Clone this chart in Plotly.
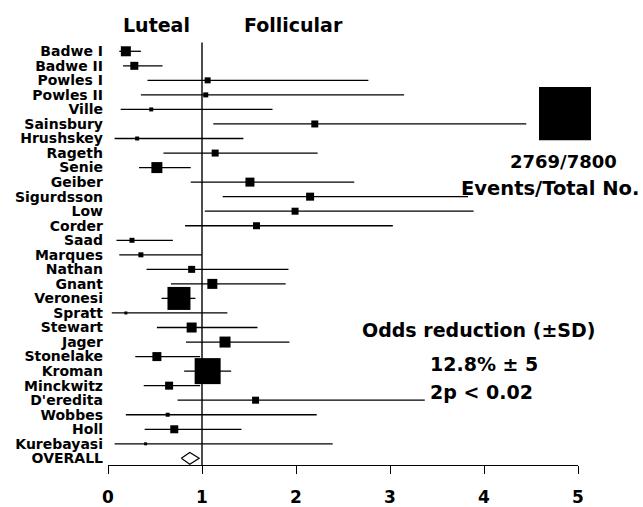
import plotly.graph_objects as go

# ---- data ----
studies = ["Badwe I", "Badwe II", "Powles I", "Powles II", "Ville", "Sainsbury",
           "Hrushskey", "Rageth", "Senie", "Geiber", "Sigurdsson", "Low", "Corder",
           "Saad", "Marques", "Nathan", "Gnant", "Veronesi", "Spratt", "Stewart",
           "Jager", "Stonelake", "Kroman", "Minckwitz", "D'eredita", "Wobbes",
           "Holl", "Kurebayasi"]
odds = [0.19, 0.28, 1.06, 1.04, 0.46, 2.20, 0.31, 1.14, 0.52, 1.51, 2.15, 1.99, 1.58,
        0.255, 0.35, 0.89, 1.11, 0.755, 0.19, 0.89, 1.245, 0.52, 1.06, 0.65, 1.57,
        0.635, 0.705, 0.40]
ci_low = [0.12, 0.16, 0.42, 0.35, 0.135, 1.12, 0.07, 0.59, 0.33, 0.88, 1.22, 1.03, 0.82,
          0.09, 0.12, 0.41, 0.67, 0.57, 0.04, 0.52, 0.83, 0.29, 0.81, 0.38, 0.74,
          0.19, 0.39, 0.07]
ci_high = [0.35, 0.58, 2.77, 3.15, 1.75, 4.45, 1.44, 2.23, 0.88, 2.62, 3.83, 3.89, 3.03,
           0.69, 1.00, 1.92, 1.89, 0.93, 1.27, 1.59, 1.93, 0.98, 1.31, 0.98, 3.37,
           2.22, 1.42, 2.39]
weights = [10, 8, 6, 5, 4, 7, 4, 7, 11, 9, 8, 7, 7, 5, 5, 7, 10, 23, 3, 10, 11, 9, 26,
           8, 7, 4, 8, 3]
overall_label = "OVERALL"
overall_est = 0.87
overall_low = 0.78
overall_high = 0.97
x_ticks = [0, 1, 2, 3, 4, 5]

# ---- styles ----
FONT = "DejaVu Sans"
SIZE_SCALE = 1.0
DIAMOND_HALF_H = 0.4
n = len(studies)
rows = list(range(n))
overall_row = n
y_bottom = overall_row + 0.457
y_top = -3.527

fig = go.Figure()

fig.add_trace(go.Scatter(
    x=odds, y=rows, mode="markers",
    marker=dict(symbol="square", color="#000000", opacity=1,
                size=[w * SIZE_SCALE for w in weights], line=dict(width=0)),
    error_x=dict(type="data", symmetric=False,
                 array=[h - e for h, e in zip(ci_high, odds)],
                 arrayminus=[e - l for e, l in zip(odds, ci_low)],
                 color="black", thickness=1.3, width=0),
    showlegend=False, cliponaxis=False, hoverinfo="skip"))

# overall diamond
fig.add_trace(go.Scatter(
    x=[overall_low, overall_est, overall_high, overall_est, overall_low],
    y=[overall_row, overall_row - DIAMOND_HALF_H, overall_row,
       overall_row + DIAMOND_HALF_H, overall_row],
    mode="lines", line=dict(color="black", width=1.2),
    showlegend=False, hoverinfo="skip"))

# vertical reference line at 1
fig.add_shape(type="line", xref="x", yref="y", x0=1, x1=1, y0=-0.6, y1=y_bottom,
              line=dict(color="black", width=1.4))

# legend box
fig.add_shape(type="rect", xref="paper", yref="paper",
              x0=(539 - 108) / 470, x1=(591 - 108) / 470,
              y0=1 - 141.5 / 469, y1=1 - 87.7 / 469,
              fillcolor="black", line=dict(width=0))

def ann(text, x, y, size, xanchor="center"):
    fig.add_annotation(text=text, x=x, y=y, xref="paper", yref="paper",
                       xanchor=xanchor, yanchor="middle", showarrow=False,
                       font=dict(family=FONT, size=size, color="black", weight="bold"))

def px_x(p):
    return (p - 108) / 470

def px_y(p):
    return 1 - p / 469

ann("Luteal", px_x(156), px_y(25), 19)
ann("Follicular", px_x(293), px_y(25), 19)
ann("2769/7800", px_x(563), px_y(163), 18)
ann("Events/Total No.", px_x(550), px_y(190), 19.5)
ann("Odds reduction (±SD)", px_x(478), px_y(333), 19)
ann("12.8% ± 5", px_x(428), px_y(367), 19, "left")
ann("2p < 0.02", px_x(428), px_y(395), 19, "left")

fig.update_layout(
    width=643, height=507,
    margin=dict(l=108, r=65, t=0, b=38),
    paper_bgcolor="white", plot_bgcolor="white",
    font=dict(family=FONT, color="black"),
    xaxis=dict(range=[0, 5], tickvals=x_ticks, ticktext=[str(t) for t in x_ticks],
               showgrid=False, zeroline=False, showline=True, linecolor="black",
               linewidth=1.4, ticks="outside", ticklen=8, tickwidth=1.4,
               tickcolor="black", ticklabelstandoff=8,
               tickfont=dict(family=FONT, size=17, color="black", weight="bold")),
    yaxis=dict(range=[y_bottom, y_top], tickvals=rows + [overall_row],
               ticktext=studies + [overall_label],
               showgrid=False, zeroline=False, showline=False, ticks="",
               ticklabelstandoff=4,
               tickfont=dict(family=FONT, size=14, color="black", weight="bold")),
)

fig.write_html("out.html")
